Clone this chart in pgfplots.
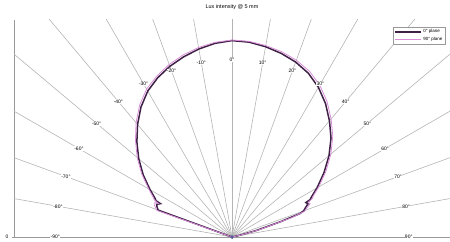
\documentclass[border=0pt]{standalone}
\usepackage{fontspec}
\setmainfont{Liberation Sans}
\usepackage{pgfplots}
\pgfplotsset{compat=1.18}
\usepackage{pgfplotstable}
\definecolor{darkser}{HTML}{3E2145}
\definecolor{pinkser}{HTML}{D98ED9}
\definecolor{raygray}{HTML}{B4B4B4}
\definecolor{origin}{HTML}{5A5AA0}

\pgfplotstableread{
t r
-90 0
-80 0
-72 0
-70 0.400
-68 0.412
-66.5 0.418
-65 0.402
-64.5 0.428
-63 0.442
-60 0.482
-55 0.552
-50 0.620
-45 0.685
-40 0.748
-35 0.808
-30 0.858
-25 0.895
-20 0.925
-15 0.950
-10 0.972
-5 0.990
0 1.000
5 0.996
10 0.984
15 0.968
20 0.948
25 0.920
30 0.880
35 0.830
40 0.772
45 0.713
50 0.645
55 0.572
60 0.500
63 0.456
64.5 0.440
65 0.415
66.5 0.422
68 0.405
70 0.388
71 0.365
72.5 0.260
75 0.130
78 0.030
80 0
90 0
}\dataA

\pgfplotstableread{
t r
-90 0
-80 0
-73 0
-70.5 0.405
-68 0.425
-66 0.430
-65.5 0.412
-64.5 0.438
-63 0.452
-60 0.490
-55 0.562
-50 0.630
-45 0.695
-40 0.760
-35 0.820
-30 0.870
-25 0.905
-20 0.935
-15 0.960
-10 0.980
-5 0.995
0 1.003
5 1.000
10 0.990
15 0.977
20 0.958
25 0.932
30 0.893
35 0.843
40 0.785
45 0.726
50 0.657
55 0.584
60 0.510
63 0.466
64.5 0.452
65.5 0.428
67 0.432
68.5 0.412
70.5 0.392
72 0.320
75 0.145
78 0.040
80 0
90 0
}\dataB

\begin{document}
\begin{tikzpicture}
\begin{axis}[
  name=ax,
  scale only axis,
  width=436bp, height=217bp,
  xmin=-1.11, xmax=1.11, ymin=0, ymax=1.105,
  axis x line=bottom, axis y line=left,
  axis line style={-, gray!80, line width=0.6bp},
  xtick={0}, ytick={0}, xticklabels={},
  tick style={gray!80, line width=0.5bp},
  tick label style={font=\fontsize{5}{6}\selectfont},
  /pgf/number format/assume math mode=true,
  title={Lux intensity @ 5 mm},
  title style={at={(0.5,1)}, anchor=south, yshift=3.5bp, inner sep=1bp, font=\fontsize{5.5}{6.5}\selectfont},
  legend style={at={(0.99,0.97)}, anchor=north east, font=\fontsize{4.5}{5}\selectfont,
    draw=gray!80, line width=0.5bp, inner sep=1bp, row sep=-1.5bp, cells={anchor=west}},
  legend image code/.code={\draw[#1] (0cm,0cm) -- (0.9cm,0cm);},
  clip=true,
]
\pgfplotsinvokeforeach{-90,-80,...,90}{
  \draw[raygray, line width=0.6bp] (axis cs:0,0) -- (axis cs:{1.6*sin(#1)},{1.6*cos(#1)});
  \coordinate (L#1) at (axis cs:{0.9*sin(#1)},{0.9*cos(#1)});
}
\addplot[darkser, line width=1.5bp] table[x expr={\thisrow{r}*sin(\thisrow{t})}, y expr={\thisrow{r}*cos(\thisrow{t})}] {\dataA};
\addlegendentry{0° plane}
\addplot[pinkser, line width=0.8bp] table[x expr={\thisrow{r}*sin(\thisrow{t})}, y expr={\thisrow{r}*cos(\thisrow{t})}] {\dataB};
\addlegendentry{90° plane}
\addplot[only marks, mark=*, mark size=1.5bp, color=origin, forget plot, clip=false] coordinates {(0,0)};
\end{axis}
\foreach \a in {-90,-80,...,90} {
  \node[fill=white, inner sep=0.4bp, font=\fontsize{5}{6}\selectfont] at (L\a) {\a°};
}
\pgfresetboundingbox
\useasboundingbox ([shift={(-14bp,-5bp)}]ax.south west) rectangle ([shift={(0bp,20bp)}]ax.north east);
\end{tikzpicture}
\end{document}
